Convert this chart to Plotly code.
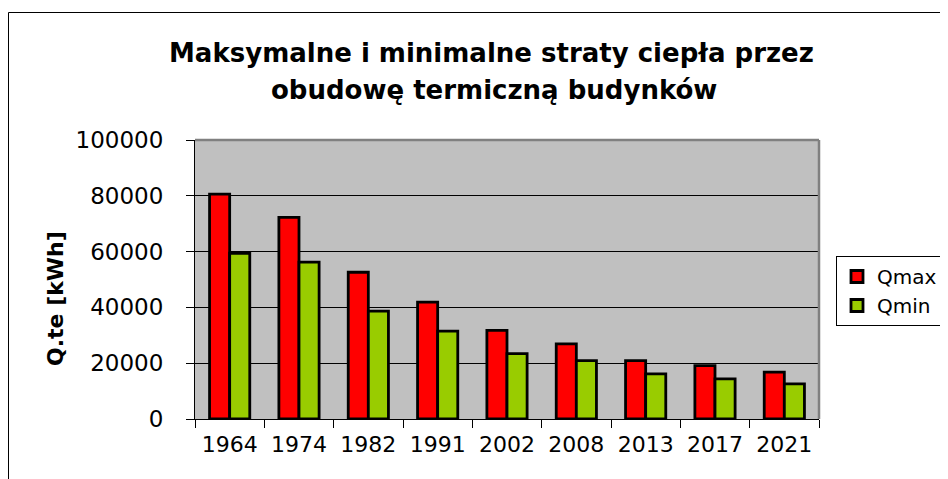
import plotly.graph_objects as go

years = ["1964", "1974", "1982", "1991", "2002", "2008", "2013", "2017", "2021"]
qmax = [80600, 72300, 52600, 41900, 31800, 26900, 20900, 19100, 16800]
qmin = [59400, 56200, 38700, 31500, 23400, 20900, 16200, 14400, 12600]
y_ticks = [0, 20000, 40000, 60000, 80000, 100000]

title_line1 = "Maksymalne i minimalne straty ciepła przez"
title_line2 = "obudowę termiczną budynków"
y_title = "Q.te [kWh]"

FONT = "DejaVu Sans"
OFF = 8  # page body margin
W, H = 948 - OFF, 479 - OFF

# target screen coordinates of the plot area
SL, SR, ST, SB = 195, 819, 140, 419
L, T = SL - OFF, ST - OFF
R, B = W - (SR - OFF), H - (SB - OFF)
pw, ph = W - L - R, H - T - B


def px(x):
    return (x - OFF - L) / pw


def py(y):
    return (H - B - (y - OFF)) / ph


fig = go.Figure()
fig.add_trace(go.Bar(name="Qmax", x=years, y=qmax,
                     marker=dict(color="#FF0000", line=dict(color="black", width=2.8))))
fig.add_trace(go.Bar(name="Qmin", x=years, y=qmin,
                     marker=dict(color="#99CC00", line=dict(color="black", width=2.8))))

fig.update_layout(
    width=W, height=H,
    margin=dict(l=L, r=R, t=T, b=B, autoexpand=False),
    paper_bgcolor="white",
    plot_bgcolor="#C0C0C0",
    barmode="group",
    bargap=0.42,
    bargroupgap=0,
    font=dict(family=FONT, color="black"),
    showlegend=True,
    legend=dict(xref="container", yref="container",
                x=(836 - OFF) / W, y=1 - (256 - OFF) / H,
                xanchor="left", yanchor="top",
                bordercolor="black", borderwidth=1, bgcolor="white",
                font=dict(size=20, family=FONT, color="black"),
                itemwidth=30, tracegroupgap=0),
    xaxis=dict(showline=True, linecolor="black", linewidth=1,
               ticks="outside", ticklen=8, tickcolor="black",
               tickson="boundaries", tickfont=dict(size=22, family=FONT),
               ticklabelstandoff=6, showgrid=False),
    yaxis=dict(range=[0, 100000], tickvals=y_ticks, tickformat="d",
               showline=True, linecolor="black", linewidth=1,
               ticks="outside", ticklen=8, tickcolor="black",
               tickfont=dict(size=23, family=FONT),
               ticklabelstandoff=18,
               showgrid=True, gridcolor="black", gridwidth=1,
               zeroline=False),
    shapes=[
        dict(type="rect", xref="paper", yref="paper",
             x0=px(8.5), y0=py(520), x1=px(1000), y1=py(12.5),
             line=dict(color="black", width=1), layer="below"),
        dict(type="line", xref="paper", yref="paper",
             x0=0, y0=1, x1=1, y1=1, line=dict(color="#808080", width=2.5)),
        dict(type="line", xref="paper", yref="paper",
             x0=1, y0=0, x1=1, y1=1, line=dict(color="#808080", width=2.5)),
    ],
    annotations=[
        dict(text=f"<b>{title_line1}</b>", xref="paper", yref="paper",
             x=px(491), y=py(53), xanchor="center", yanchor="middle",
             showarrow=False, font=dict(size=26, family=FONT, color="black")),
        dict(text=f"<b>{title_line2}</b>", xref="paper", yref="paper",
             x=px(494), y=py(90), xanchor="center", yanchor="middle",
             showarrow=False, font=dict(size=26, family=FONT, color="black")),
        dict(text=f"<b>{y_title}</b>", xref="paper", yref="paper",
             x=px(55), y=py(299), xanchor="center", yanchor="middle",
             textangle=-90, showarrow=False,
             font=dict(size=22, family=FONT, color="black")),
    ],
)

fig.write_html("out.html")
